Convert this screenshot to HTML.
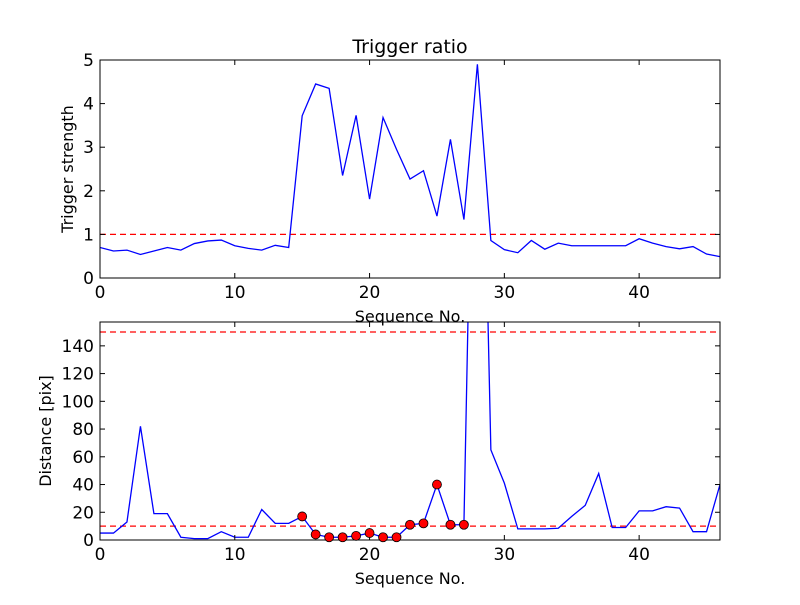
<!DOCTYPE html>
<html><head><meta charset="utf-8"><style>
body{margin:0;background:#fff}
text{font-family:"DejaVu Sans","Liberation Sans",sans-serif;fill:#000}
</style></head><body>
<svg id="c" width="800" height="600" xmlns="http://www.w3.org/2000/svg"></svg>
<script>
const seq = Array.from({length:47},(_,i)=>i);
const ratio = [0.7,0.62,0.64,0.54,0.62,0.7,0.64,0.79,0.85,0.87,0.74,0.68,0.64,0.75,0.7,3.72,4.45,4.35,2.35,3.73,1.81,3.68,2.95,2.27,2.46,1.42,3.18,1.34,4.9,0.86,0.65,0.58,0.86,0.66,0.8,0.74,0.74,0.74,0.74,0.74,0.9,0.8,0.72,0.67,0.72,0.55,0.49];
const dist = [5,5,13,82,19,19,2,1,1,6,2,2,22,12,12,17,4,2,2,3,5,2,2,11,12,40,11,11,500,65,41,8,8,8,8.5,17,25,48,9,9,21,21,24,23,6,6,40];
const marked = [15,16,17,18,19,20,21,22,23,24,25,26,27];
const xTicks = [0,10,20,30,40];
const topYTicks = [0,1,2,3,4,5];
const botYTicks = [0,20,40,60,80,100,120,140];
const topThresh = [1];
const botThresh = [10,150];

const svg=document.getElementById('c');
const NS='http://www.w3.org/2000/svg';
function mk(tag,attrs,parent){const e=document.createElementNS(NS,tag);for(const k in attrs)e.setAttribute(k,attrs[k]);(parent||svg).appendChild(e);return e;}
const X0=100,X1=720;
const sx=v=>X0+(v-0)/(46-0)*(X1-X0);

function panel(name,top,bot,ymax,yTicks,data,thresh,ylabel,clipId,ylx){
  const sy=v=>bot-(v/ymax)*(bot-top);
  const g=mk('g',{});
  
  
  const cp=mk('clipPath',{id:clipId},g);mk('rect',{x:X0,y:top,width:X1-X0,height:bot-top},cp);
  const inner=mk('g',{'clip-path':'url(#'+clipId+')'},g);
  thresh.forEach(t=>{const l=mk('line',{x1:X0,x2:X1,y1:sy(t),y2:sy(t),stroke:'#f00','stroke-width':1.3,'stroke-dasharray':'6,4'},inner);
    
    });
  const p=mk('polyline',{points:data.map((v,i)=>sx(seq[i])+','+sy(v)).join(' '),fill:'none',stroke:'#00f','stroke-width':1.3},inner);
  
  
  const fr=mk('rect',{x:X0,y:top,width:X1-X0,height:bot-top,fill:'none',stroke:'#000','stroke-width':1},g);
  
  
  xTicks.forEach(t=>{const x=sx(t);
    mk('line',{x1:x,x2:x,y1:bot,y2:bot-5,stroke:'#000'},g);mk('line',{x1:x,x2:x,y1:top,y2:top+5,stroke:'#000'},g);
    const tx=mk('text',{x:x,y:bot+20,'text-anchor':'middle','font-size':17},g);tx.textContent=t;
    
    });
  yTicks.forEach(t=>{const y=sy(t);
    mk('line',{x1:X0,x2:X0+5,y1:y,y2:y,stroke:'#000'},g);mk('line',{x1:X1,x2:X1-5,y1:y,y2:y,stroke:'#000'},g);
    const tx=mk('text',{x:X0-6,y:y+6,'text-anchor':'end','font-size':17},g);tx.textContent=t;
    
    });
  const xl=mk('text',{x:410,y:bot+44,'text-anchor':'middle','font-size':16},g);xl.textContent='Sequence No.';
  
  
  const yl=mk('text',{x:0,y:0,'text-anchor':'middle','font-size':16,transform:'translate('+ylx+','+((top+bot)/2)+') rotate(-90)'},g);yl.textContent=ylabel;
  
  
  return {sy,inner};
}
panel('trigger-ratio-panel',60,278,5,topYTicks,ratio,topThresh,'Trigger strength','c1',73);
const b=panel('distance-panel',322,540,157.2,botYTicks,dist,botThresh,'Distance [pix]','c2',51);
marked.forEach(i=>{const c=mk('circle',{cx:sx(seq[i]),cy:b.sy(dist[i]),r:4.5,fill:'#f00',stroke:'#000','stroke-width':0.8});
  
  });
const t=mk('text',{x:410,y:53,'text-anchor':'middle','font-size':19});t.textContent='Trigger ratio';


</script>
</body></html>
